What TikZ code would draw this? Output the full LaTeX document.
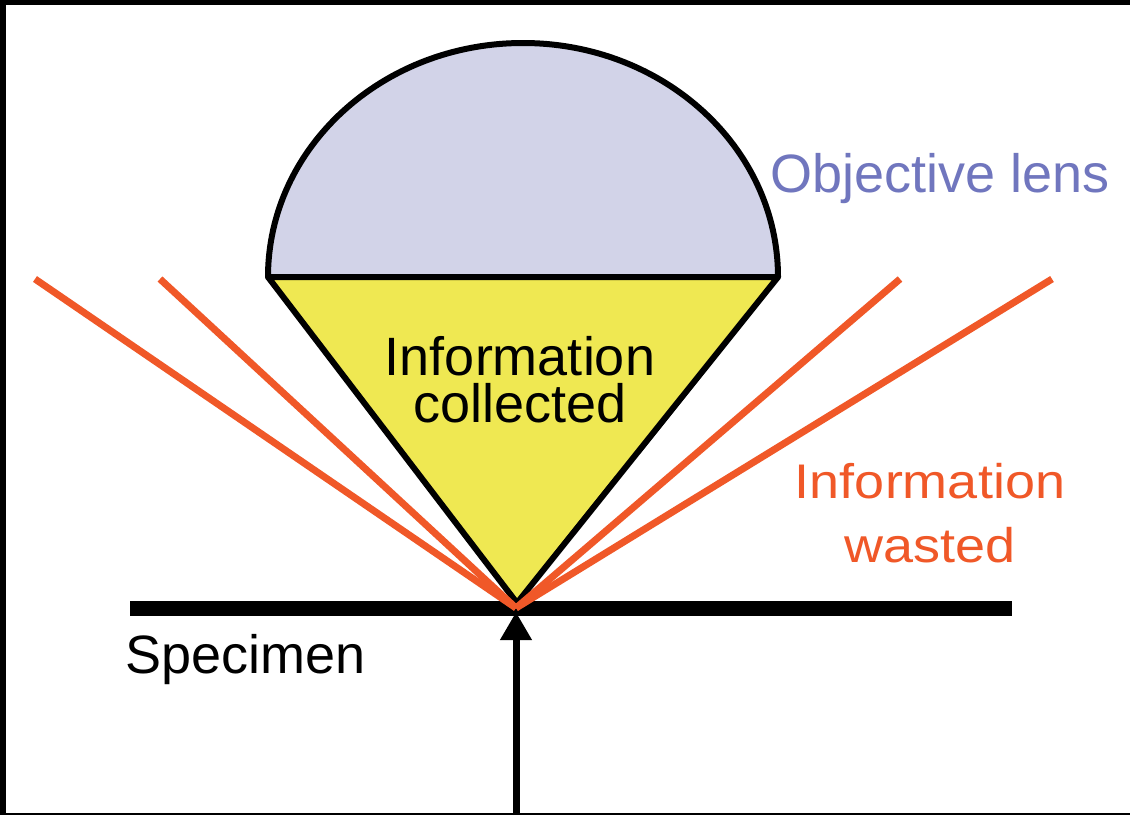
\documentclass[tikz,border=0pt]{standalone}
\usepackage{fontspec}
\setmainfont{Liberation Sans}
\usetikzlibrary{arrows.meta}
\definecolor{lensfill}{RGB}{210,211,232}
\definecolor{conefill}{RGB}{239,232,82}
\definecolor{wasteorange}{RGB}{240,88,40}
\definecolor{lenslabel}{RGB}{112,118,190}
\begin{document}
\begin{tikzpicture}[x=1pt,y=-1pt,
  outline/.style={draw=black, line width=6pt, line join=round},
  ray/.style={draw=wasteorange, line width=7pt},
  lbl/.style={inner sep=0pt, font=\fontsize{54}{47}\selectfont, align=center},
]
\fill[black] (0,0) rectangle (1130,815);
\fill[white] (6,5) rectangle (1130,813);
\useasboundingbox (0,0) rectangle (1130,815);
% key points
\coordinate (apex) at (517,603);
\coordinate (L) at (268,277);
\coordinate (R) at (778,277);
\coordinate (focus) at (516,608);
\coordinate (w1) at (35,279);
\coordinate (w2) at (160,279);
\coordinate (w3) at (900,279);
\coordinate (w4) at (1052,279);
\coordinate (src) at (516,815);
\coordinate (tip) at (516,612);
% lens
\path[outline, fill=lensfill] (L) arc[start angle=180, end angle=0, x radius=255pt, y radius=234pt] -- cycle;
% collected cone
\path[outline, fill=conefill] (L) -- (R) -- (apex) -- cycle;
% specimen
\fill[black] (130,601) rectangle (1012,616);
% wasted rays
\draw[ray] (w1) -- (focus);
\draw[ray] (w2) -- (focus);
\draw[ray] (w3) -- (focus);
\draw[ray] (w4) -- (focus);
% illumination arrow
\draw[line width=7pt, -{Triangle[width=30pt,length=28pt]}] (src) -- (tip);
% labels
\node[lbl, anchor=base] (collected) at (520,422) {Information\\collected};
\node[lbl, anchor=base west, text=lenslabel] (objective) at (770,192) {Objective lens};
\node[lbl, anchor=base west] (specimen) at (125,673) {Specimen};
\begin{scope}[shift={(930,562)}, yscale=0.9]
\node[lbl, anchor=base, text=wasteorange, transform shape, font=\fontsize{54}{71}\selectfont] (wasted) at (0,0) {Information\\wasted};
\end{scope}
\end{tikzpicture}
\end{document}
